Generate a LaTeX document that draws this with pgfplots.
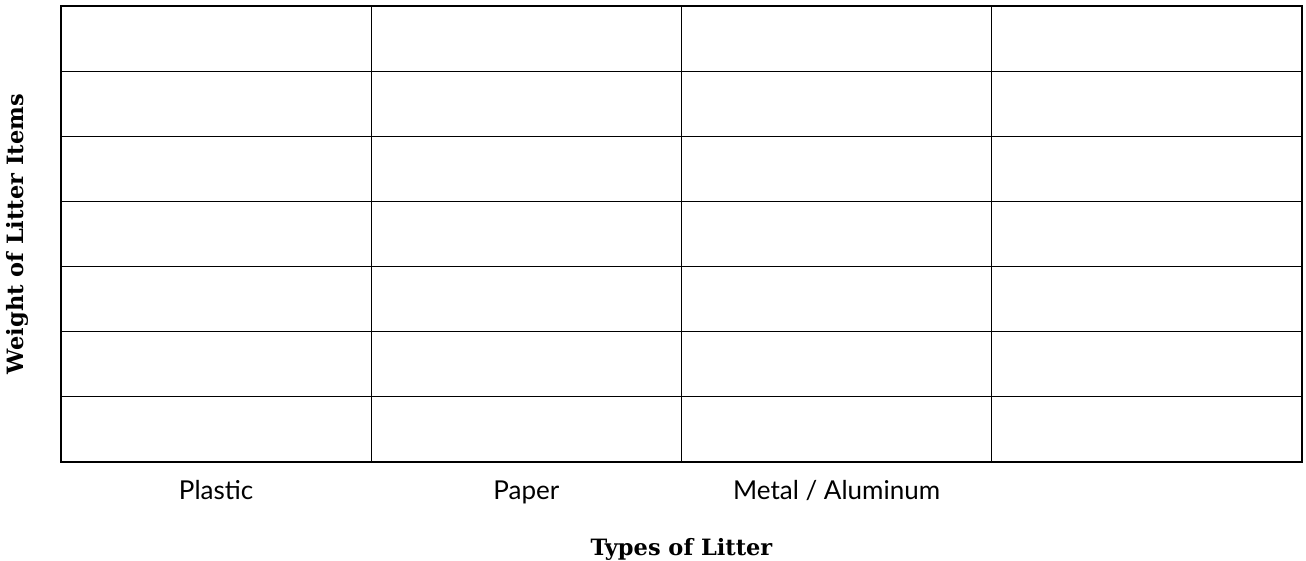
\documentclass[border=0pt]{standalone}
\usepackage{pgfplots}
\pgfplotsset{compat=1.18}
\usepackage{fontspec}
\setmainfont{Lato}
\newfontfamily\slab{DejaVu Serif}
\begin{document}
\begin{tikzpicture}[x=1pt,y=1pt]
\begin{axis}[
  at={(61pt,98pt)}, anchor=south west,
  scale only axis, width=1241pt, height=456pt,
  xmin=0, xmax=4, ymin=0, ymax=7,
  xtick={1,2,3}, xticklabels={},
  ytick={1,2,3,4,5,6}, yticklabels={},
  grid=major, major grid style={black, line width=1.2pt},
  axis line style={black, line width=1.6pt},
  major tick length=0pt,
  extra x ticks={0.5,1.5,2.5},
  extra x tick labels={Plastic,Paper,Metal / Aluminum},
  extra x tick style={grid=none, major tick length=0pt},
  xticklabel style={font=\fontsize{26}{29}\selectfont, yshift=-15pt},
  xlabel={\slab\bfseries\fontsize{22.5}{25}\selectfont Types of Litter},
  xlabel style={yshift=-28pt},
  ylabel={\slab\bfseries\fontsize{22.5}{25}\selectfont Weight of Litter Items},
  ylabel style={yshift=22pt},
]
\addplot[draw=none] coordinates {(0,0)};
\end{axis}
\pgfresetboundingbox
\useasboundingbox (0,0) rectangle (1306,560);
\end{tikzpicture}
\end{document}
